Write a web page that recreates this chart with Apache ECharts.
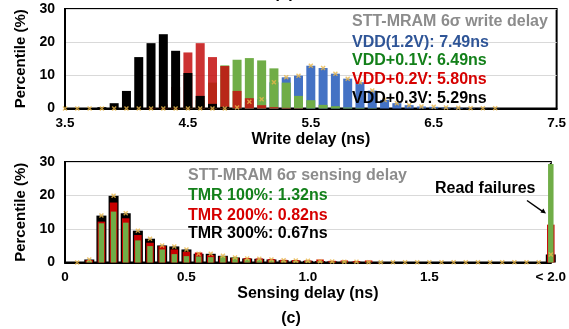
<!DOCTYPE html>
<html><head><meta charset="utf-8">
<script src="https://cdn.jsdelivr.net/npm/echarts@6/dist/echarts.min.js"></script>
<style>html,body{margin:0;padding:0;background:#fff}#c{width:569px;height:329px}</style>
</head><body><div id="c"></div>
<script>
// ---- Write delay (top) ----
const writeBins = [3.5,3.6,3.7,3.8,3.9,4.0,4.1,4.2,4.3,4.4,4.5,4.6,4.7,4.8,4.9,5.0,5.1,5.2,5.3,5.4,5.5,5.6,5.7,5.8,5.9,6.0,6.1,6.2,6.3,6.4,6.5,6.6,6.7,6.8,6.9,7.0];
const vdd12 = [0,0,0,0,0,0,0,0,0,0,0,0,0,0,0.3,2.0,2.8,7.9,9.4,9.9,12.9,12.2,10.5,9.0,7.9,5.4,2.6,1.6,1.0,0.6,0.5,0.3,0.2,0.1,0.05,0.05];
const vddP01 = [0,0,0,0,0,0,0,0,0,0,0.6,2.5,7.8,13.0,14.7,15.2,14.5,12.1,7.8,3.8,2.5,1.1,0.7,0.3,0.2,0.1,0,0,0,0,0,0,0,0,0,0];
const vddP02 = [0,0,0,0,0,0,0,0.2,1.2,6.5,16.9,19.7,15.5,12.8,5.3,3.1,1.0,0.4,0.2,0.1,0,0,0,0,0,0,0,0,0,0,0,0,0,0,0,0];
const vddP03 = [0,0,0.1,0.4,1.6,5.3,15.5,19.7,22.4,17.4,10.7,3.8,1.4,0.5,0.1,0,0,0,0,0,0,0,0,0,0,0,0,0,0,0,0,0,0,0,0,0];
const writeTicks = ['3.5','4.5','5.5','6.5','7.5'];

// ---- Sensing delay (bottom) ----
const senseBins = [0.05,0.10,0.15,0.20,0.25,0.30,0.35,0.40,0.45,0.50,0.55,0.60,0.65,0.70,0.75,0.80,0.85,0.90,0.95,1.00,1.05,1.10,1.15,1.20,1.25,1.30,1.35,1.40,1.45,1.50,1.55,1.60,1.65,1.70,1.75,1.80,1.85,1.90,1.95,2.00];
const tmr300 = [0,0.9,14.0,19.9,14.7,9.5,7.1,5.1,4.8,3.9,2.6,2.6,2.0,1.5,1.2,1.1,0.9,0.7,0.6,0.5,0.4,0.3,0.2,0.2,0.1,0.1,0.05,0.05,0.05,0.05,0.05,0.05,0.05,0.05,0.05,0.05,0.05,0.05,0.05,2.4];
const tmr200 = [0,0.7,12.2,17.9,13.2,8.2,5.9,4.9,3.9,3.2,3.0,2.2,1.8,1.4,1.3,1.2,1.0,0.8,0.7,0.6,0.9,0.5,0.6,0.4,0.6,0.1,0,0,0,0,0,0,0,0,0,0,0,0,0,11.3];
const tmr100 = [0,0.5,11.7,15.2,11.9,6.6,4.9,3.9,2.5,1.9,1.8,1.6,1.9,1.6,1.0,0.9,0.7,0.6,0.5,0.5,0.4,0.3,0.4,0.2,0.3,0.2,0,0,0,0,0,0,0,0,0,0,0,0,0,29.4];
const senseTicks = ['0','0.5','1.0','1.5','< 2.0'];

const pair = (xs, ys) => xs.map((x, i) => [x, ys[i]]);
const XSYM = 'path://M2,0L5,3L8,0L10,2L7,5L10,8L8,10L5,7L2,10L0,8L3,5L0,2Z';
const FONT = '"Liberation Sans", Arial, sans-serif';

const yAxisBase = (gi) => ({
  gridIndex: gi, type: 'value', min: 0, max: 30, interval: 10,
  name: 'Percentile (%)', nameLocation: 'middle', nameGap: 35,
  nameTextStyle: {fontFamily: FONT, fontWeight: 'bold', fontSize: 15, color: '#000'},
  axisLine: {show: true, lineStyle: {color: '#000', width: 2}},
  axisTick: {show: false},
  axisLabel: {fontFamily: FONT, fontWeight: 'bold', fontSize: 14, color: '#000', margin: 10},
  splitLine: {show: true, lineStyle: {color: '#d9d9d9', width: 1}}
});

const xAxisBase = (gi, min, max, step, ticks, name, gap, show) => ({
  gridIndex: gi, type: 'value', min: min, max: max, interval: 0.5, show: show,
  name: name, nameLocation: 'middle', nameGap: gap,
  nameTextStyle: {fontFamily: FONT, fontWeight: 'bold', fontSize: 16, color: '#000'},
  axisLine: {show: true, onZero: false, lineStyle: {color: '#000', width: 2}},
  axisTick: {show: false},
  splitLine: {show: false},
  axisLabel: {
    fontFamily: FONT, fontWeight: 'bold', fontSize: 13.5, color: '#000', margin: 8,
    showMinLabel: true, showMaxLabel: true,
    formatter: function (v) {
      const r = (v - min) / step;
      const k = Math.round(r);
      if (Math.abs(r - k) > 1e-6) return '';
      return ticks[k] !== undefined ? ticks[k] : '';
    }
  }
});

const chart = echarts.init(document.getElementById('c'), null, {renderer: 'canvas'});
const txt = (s, x, y, color, size, align) => ({
  type: 'text', x: x, y: y, z: 100,
  style: {text: s, fill: color, font: 'bold ' + (size || 16) + 'px ' + FONT,
          textAlign: align || 'left', align: align || 'left',
          textVerticalAlign: 'middle', verticalAlign: 'middle'}
});

chart.setOption({
  animation: false,
  grid: [
    {left: 65, top: 9, width: 493, height: 99.5, show: true, borderColor: '#000', borderWidth: 2, backgroundColor: 'transparent'},
    {left: 65, top: 162, width: 493, height: 100.5, show: true, borderColor: '#000', borderWidth: 2, backgroundColor: 'transparent'}
  ],
  xAxis: [
    xAxisBase(0, 3.5, 7.5, 1, writeTicks, 'Write delay (ns)', 20, true),
    xAxisBase(1, 0, 2.0, 0.5, senseTicks, 'Sensing delay (ns)', 21, true),
    xAxisBase(1, 0, 2.0, 0.5, senseTicks, '', 0, false),
    xAxisBase(1, 0, 2.0, 0.5, senseTicks, '', 0, false)
  ],
  yAxis: [yAxisBase(0), yAxisBase(1)],
  series: [
    {type: 'bar', name: 'VDD(1.2V)', xAxisIndex: 0, yAxisIndex: 0, data: pair(writeBins, vdd12), barWidth: 9, barGap: '-100%', itemStyle: {color: '#4472c4'}, clip: false},
    {type: 'bar', name: 'VDD+0.1V', xAxisIndex: 0, yAxisIndex: 0, data: pair(writeBins, vddP01), barWidth: 9, barGap: '-100%', itemStyle: {color: '#70ad47'}, clip: false},
    {type: 'bar', name: 'VDD+0.2V', xAxisIndex: 0, yAxisIndex: 0, data: pair(writeBins, vddP02), barWidth: 9, barGap: '-100%', itemStyle: {color: 'rgba(196,16,16,0.86)'}, clip: false},
    {type: 'bar', name: 'VDD+0.3V', xAxisIndex: 0, yAxisIndex: 0, data: pair(writeBins, vddP03), barWidth: 9, barGap: '-100%', itemStyle: {color: '#000'}, clip: false},
    {type: 'scatter', xAxisIndex: 0, yAxisIndex: 0, data: pair(writeBins, vdd12), symbol: XSYM, symbolSize: 5, itemStyle: {color: '#e8b64a'}, z: 5, clip: false},

    {type: 'bar', name: 'TMR 300%', xAxisIndex: 1, yAxisIndex: 1, data: pair(senseBins, tmr300), barWidth: 10, itemStyle: {color: '#000'}, clip: false},
    {type: 'bar', name: 'TMR 200%', xAxisIndex: 2, yAxisIndex: 1, data: pair(senseBins, tmr200), barWidth: 7.5, itemStyle: {color: '#c80000'}, clip: false},
    {type: 'bar', name: 'TMR 100%', xAxisIndex: 3, yAxisIndex: 1, data: pair(senseBins, tmr100), barWidth: 5.5, itemStyle: {color: '#70ad47'}, clip: false},
    {type: 'scatter', xAxisIndex: 1, yAxisIndex: 1, data: pair(senseBins, tmr300), symbol: XSYM, symbolSize: 5, itemStyle: {color: '#e8b64a'}, z: 5, clip: false}
  ],
  graphic: [
    txt('STT-MRAM 6σ write delay', 352, 22, '#8c8c8c'),
    txt('VDD(1.2V): 7.49ns', 352, 42.5, '#2f5597'),
    txt('VDD+0.1V: 6.49ns', 352, 61, '#13801a'),
    txt('VDD+0.2V: 5.80ns', 352, 80, '#d60000'),
    txt('VDD+0.3V: 5.29ns', 352, 99, '#000'),
    txt('STT-MRAM 6σ sensing delay', 188, 176, '#8c8c8c'),
    txt('TMR 100%: 1.32ns', 188, 195.5, '#13801a'),
    txt('TMR 200%: 0.82ns', 188, 215.5, '#d60000'),
    txt('TMR 300%: 0.67ns', 188, 234, '#000'),
    txt('Read failures', 435, 189, '#000'),
    txt('(c)', 291, 319, '#000', 16, 'center'),
    txt('(b)', 284, -6, '#000', 16, 'center'),
    {type: 'line', z: 100, shape: {x1: 527, y1: 200.5, x2: 542.5, y2: 211.3}, style: {stroke: '#000', lineWidth: 1.5}},
    {type: 'polygon', z: 100, shape: {points: [[546, 213.5], [540.4, 212.6], [543.4, 208.4]]}, style: {fill: '#000'}}
  ]
});
</script>
</body></html>
